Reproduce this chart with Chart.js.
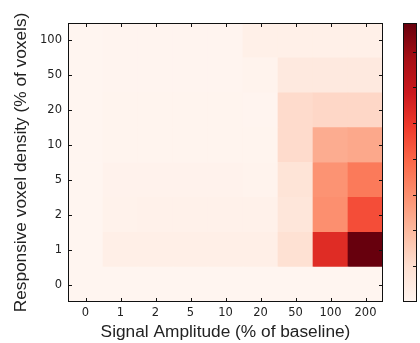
<!DOCTYPE html>
<html>
<head>
<meta charset="utf-8">
<script src="https://cdn.jsdelivr.net/npm/chart.js@4/dist/chart.umd.min.js"></script>
<style>
  html, body { margin: 0; padding: 0; background: #fff; }
  #wrap { width: 420px; height: 343px; }
</style>
</head>
<body>
<div id="wrap"><canvas id="heatChart"></canvas></div>
<script>
// amplitude categories (columns) and density categories (rows, bottom to top)
var amplitudes = ["0", "1", "2", "5", "10", "20", "50", "100", "200"];
var densities = ["0", "1", "2", "5", "10", "20", "50", "100"];

// one array per density row, one value per amplitude
var dens0   = [0, 0,     0,     0,     0,     0,     0,     0,     0];
var dens1   = [0, 0.030, 0.030, 0.030, 0.030, 0.028, 0.095, 0.53,  0.78];
var dens2   = [0, 0.015, 0.020, 0.020, 0.020, 0.018, 0.070, 0.30,  0.45];
var dens5   = [0, 0.013, 0.013, 0.013, 0.013, 0.010, 0.080, 0.29,  0.35];
var dens10  = [0, 0.006, 0.006, 0.006, 0.006, 0.005, 0.110, 0.23,  0.24];
var dens20  = [0, 0.005, 0.005, 0.005, 0.005, 0.004, 0.110, 0.12,  0.12];
var dens50  = [0, 0.004, 0.004, 0.004, 0.004, 0.010, 0.055, 0.055, 0.055];
var dens100 = [0, 0.004, 0.004, 0.004, 0.004, 0.025, 0.025, 0.025, 0.025];
var rowValues = [dens0, dens1, dens2, dens5, dens10, dens20, dens50, dens100];

// colour scale range and colorbar tick values
var vMin = 0;
var vMax = 0.78;
var cbTicks = [0.1, 0.2, 0.3, 0.4, 0.5, 0.6, 0.7];

// "Reds" sequential colormap stops
var reds = [
    [255, 245, 240], [254, 224, 210], [252, 187, 161], [252, 146, 114],
    [251, 106, 74], [239, 59, 44], [203, 24, 29], [165, 15, 21], [103, 0, 13]
];

function redsColor(v) {
    var t = (v - vMin) / (vMax - vMin);
    t = Math.max(0, Math.min(1, t)) * (reds.length - 1);
    var i = Math.min(Math.floor(t), reds.length - 2);
    var f = t - i;
    var a = reds[i], b = reds[i + 1];
    var c = a.map(function (x, k) { return Math.round(x + (b[k] - x) * f); });
    return "rgb(" + c.join(",") + ")";
}

// each density row is a stacked bar layer of unit height
var datasets = rowValues.map(function (vals, r) {
    return {
        label: densities[r],
        data: amplitudes.map(function () { return 1; }),
        backgroundColor: vals.map(redsColor),
        borderWidth: 0,
        barPercentage: 1.0,
        categoryPercentage: 1.0
    };
});

var tickFont = { family: "'DejaVu Sans'", size: 11.5 };
var titleFont = { family: "'Liberation Sans'", size: 17.3 };

// inward ticks, frame and colorbar
var framePlugin = {
    id: "frame",
    afterDraw: function (chart) {
        var c = chart.ctx;
        var a = chart.chartArea;
        var xs = chart.scales.x, ys = chart.scales.y, cb = chart.scales.cb;
        var len = 4;
        c.save();
        c.strokeStyle = "#111";
        c.lineWidth = 1;
        c.beginPath();
        xs.ticks.forEach(function (t, i) {
            var px = Math.round(xs.getPixelForTick(i)) + 0.5;
            c.moveTo(px, a.bottom); c.lineTo(px, a.bottom - len);
            c.moveTo(px, a.top); c.lineTo(px, a.top + len);
        });
        ys.ticks.forEach(function (t) {
            var py = Math.round(ys.getPixelForValue(t.value)) + 0.5;
            c.moveTo(a.left, py); c.lineTo(a.left + len, py);
            c.moveTo(a.right, py); c.lineTo(a.right - len, py);
        });
        c.stroke();
        c.strokeRect(Math.round(a.left) + 0.5, Math.round(a.top) + 0.5,
                     Math.round(a.right - a.left) - 1, Math.round(a.bottom - a.top) - 1);

        // colorbar
        var cbLeft = 403, cbRight = 417;
        var top = cb.getPixelForValue(vMax), bot = cb.getPixelForValue(vMin);
        var g = c.createLinearGradient(0, bot, 0, top);
        reds.forEach(function (s, k) {
            g.addColorStop(k / (reds.length - 1), "rgb(" + s.join(",") + ")");
        });
        c.fillStyle = g;
        c.fillRect(cbLeft, top, cbRight - cbLeft, bot - top);
        c.beginPath();
        cbTicks.forEach(function (v) {
            var py = Math.round(cb.getPixelForValue(v)) + 0.5;
            c.moveTo(cbRight, py); c.lineTo(cbRight - len, py);
        });
        c.stroke();
        c.strokeRect(cbLeft + 0.5, Math.round(top) + 0.5, cbRight - cbLeft - 1, Math.round(bot - top) - 1);
        c.restore();
    }
};

var ctx = document.getElementById("heatChart").getContext("2d");
var heatChart = new Chart(ctx, {
    type: "bar",
    data: { labels: amplitudes, datasets: datasets },
    plugins: [framePlugin],
    options: {
        responsive: true,
        maintainAspectRatio: false,
        animation: false,
        layout: { padding: { top: 23, right: 37, bottom: 0, left: 0 } },
        plugins: { legend: { display: false }, tooltip: { enabled: false } },
        scales: {
            x: {
                stacked: true,
                grid: { display: false, drawTicks: false },
                border: { display: false },
                ticks: { color: "#222", font: tickFont, padding: 4, maxRotation: 0, autoSkip: false },
                title: {
                    display: true, text: "Signal Amplitude (% of baseline)",
                    color: "#222", font: titleFont, padding: { top: 0, bottom: 0 }
                },
                afterFit: function (s) { s.height = 41; }
            },
            y: {
                stacked: true,
                min: 0,
                max: densities.length,
                grid: { display: false, drawTicks: false },
                border: { display: false },
                afterBuildTicks: function (s) {
                    s.ticks = densities.map(function (d, i) { return { value: i + 0.5 }; });
                },
                ticks: {
                    color: "#222", font: tickFont, padding: 6,
                    callback: function (v) { return densities[Math.round(v - 0.5)]; }
                },
                title: {
                    display: true, text: "Responsive voxel density (% of voxels)",
                    color: "#222", font: titleFont, padding: { top: 11, bottom: 0 }
                },
                afterFit: function (s) { s.width = 68; }
            },
            cb: {
                type: "linear",
                position: "right",
                display: false,
                min: vMin,
                max: vMax
            }
        }
    }
});
</script>
</body>
</html>
